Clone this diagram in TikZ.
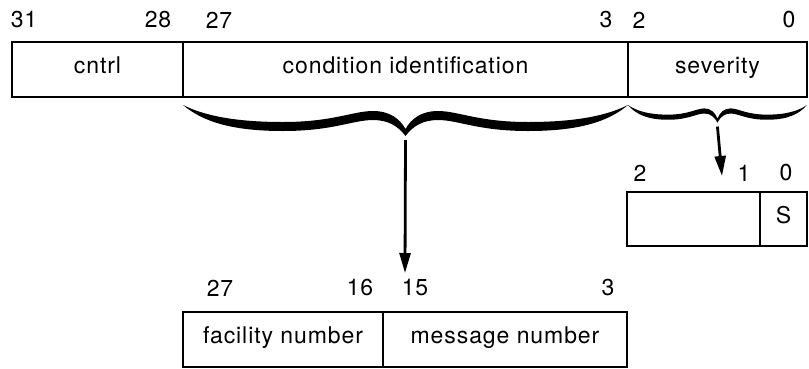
\documentclass[tikz,border=0pt]{standalone}
\usepackage{fontspec}
\newfontfamily\fieldfont{TeX Gyre Heros}[LetterSpace=4]
\usetikzlibrary{positioning,arrows.meta}

% filled curly brace, 445 wide and 30 deep, tip at (222.5,30)
\newcommand{\fatbrace}{%
    (0,0) .. controls (20,17) and (50,26) .. (100,26)
    .. controls (150,26) and (170,15) .. (190,15)
    .. controls (205,15) and (215,21) .. (222.5,31)
    .. controls (230,21) and (240,15) .. (255,15)
    .. controls (275,15) and (295,26) .. (345,26)
    .. controls (395,26) and (425,17) .. (445,0)
    .. controls (425,10) and (395,17) .. (345,17)
    .. controls (295,17) and (275,6) .. (255,6)
    .. controls (238,6) and (228,14) .. (222.5,24)
    .. controls (217,14) and (207,6) .. (190,6)
    .. controls (170,6) and (150,17) .. (100,17)
    .. controls (50,17) and (20,10) .. (0,0) -- cycle}

\begin{document}
\begin{tikzpicture}[x=1pt, y=-1pt, node distance=0pt, font=\fieldfont\fontsize{23}{27}\selectfont]
    \tikzstyle{field} = [rectangle, draw, line width=2.9pt, minimum height=55pt, inner sep=0pt, outer sep=0pt, text centered, text height=0.9em, text depth=0.1em]
    \tikzstyle{bitno} = [inner sep=0pt]
    \tikzstyle{pointer} = [-{Triangle[length=20pt, width=11pt]}, line width=2.8pt]

    \useasboundingbox (0,0) rectangle (809,368);

    % Condition value
    \node [field, minimum width=171pt, anchor=north west] (cntrl) at (12,42) {cntrl};
    \node [field, minimum width=445pt, right=of cntrl] (condid) {condition identification};
    \node [field, minimum width=179pt, right=of condid] (severity) {severity};

    \node [bitno] (b31) at (24,20) {31};
    \node [bitno] (b28) at (158,20) {28};
    \node [bitno] (b27) at (219,20) {27};
    \node [bitno] (b3) at (606,20) {3};
    \node [bitno] (b2) at (639,20) {2};
    \node [bitno] (b0) at (789,20) {0};

    % Braces
    \begin{scope}[shift={(183,105)}]
        \fill \fatbrace;
        \coordinate (condtip) at (222.5,35);
    \end{scope}
    \begin{scope}[shift={(628,105)}, xscale=0.402, yscale=0.567]
        \fill \fatbrace;
        \coordinate (sevtip) at (222.5,38);
    \end{scope}

    % Condition identification fields
    \node [field, minimum width=200pt, anchor=north west] (facility) at (183,312) {facility number};
    \node [field, minimum width=244pt, right=of facility] (message) {message number};

    \node [bitno] (f27) at (220,288) {27};
    \node [bitno] (f16) at (360,288) {16};
    \node [bitno] (f15) at (415,288) {15};
    \node [bitno] (f3) at (608,288) {3};

    % Severity fields
    \node [field, minimum width=133pt, minimum height=54pt, anchor=north west] (sevhigh) at (627,192) {};
    \node [field, minimum width=47pt, minimum height=54pt, right=of sevhigh] (sevlow) {S};

    \node [bitno] (s2) at (640,173) {2};
    \node [bitno] (s1) at (744,173) {1};
    \node [bitno] (s0) at (786,173) {0};

    % Arrows
    \coordinate (condend) at (405,273);
    \coordinate (sevend) at (722,176);
    \draw [pointer] (condtip) -- (condend);
    \draw [pointer] (sevtip) -- (sevend);
\end{tikzpicture}
\end{document}
